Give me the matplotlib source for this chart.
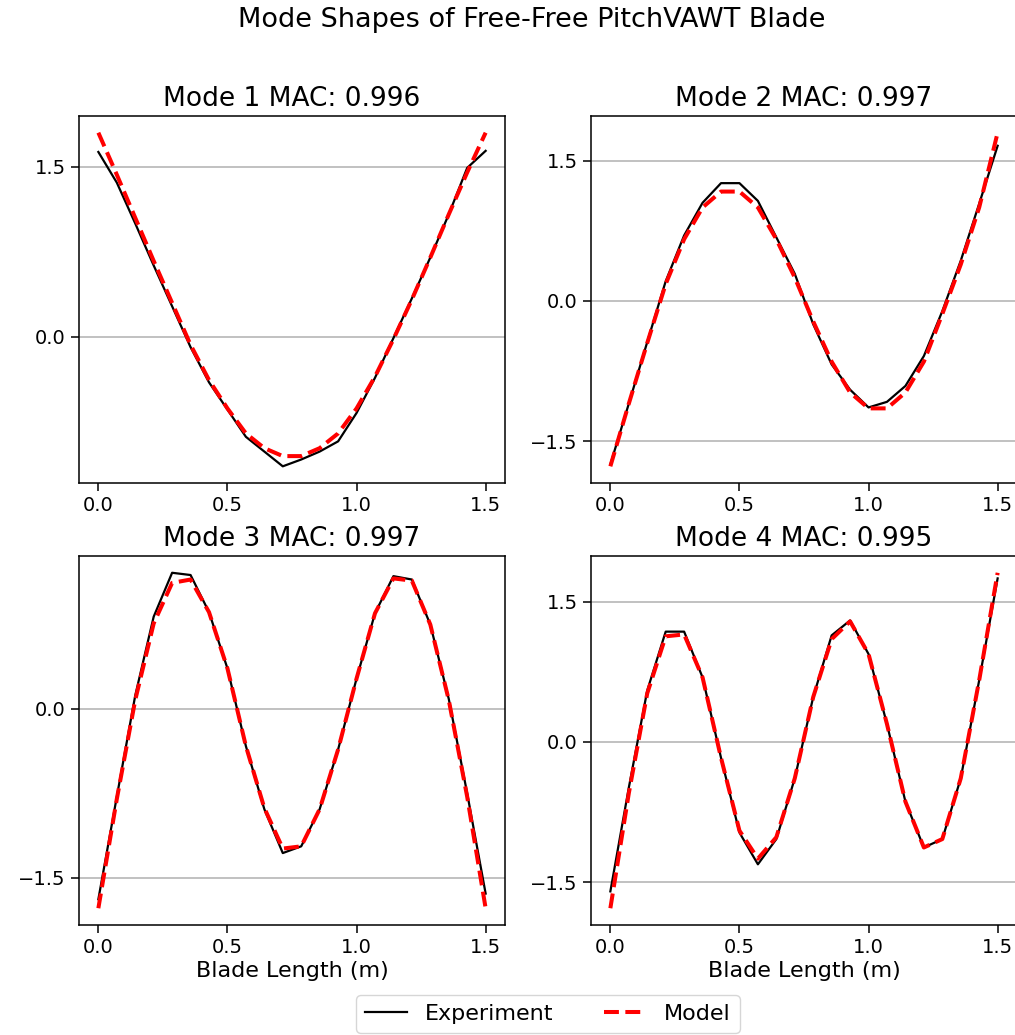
import numpy as np
import matplotlib
matplotlib.use("Agg")
import matplotlib.pyplot as plt
from matplotlib.ticker import MultipleLocator

x = np.linspace(0, 1.5, 22)

titles = ["Mode 1 MAC: 0.996", "Mode 2 MAC: 0.997", "Mode 3 MAC: 0.997", "Mode 4 MAC: 0.995"]

exp1 = [1.63, 1.36, 1.00, 0.63, 0.27, -0.09, -0.40, -0.64, -0.88, -1.01, -1.14,
        -1.08, -1.01, -0.92, -0.67, -0.36, -0.01, 0.34, 0.70, 1.08, 1.49, 1.64]
mod1 = [1.80, 1.43, 1.05, 0.67, 0.30, -0.07, -0.38, -0.63, -0.85, -0.98, -1.05,
        -1.05, -0.98, -0.85, -0.63, -0.35, -0.02, 0.33, 0.70, 1.08, 1.45, 1.80]

exp2 = [-1.75, -1.10, -0.44, 0.21, 0.70, 1.05, 1.26, 1.26, 1.07, 0.68, 0.29,
        -0.25, -0.68, -0.95, -1.14, -1.08, -0.91, -0.59, -0.11, 0.43, 1.04, 1.66]
mod2 = [-1.77, -1.10, -0.45, 0.18, 0.66, 1.00, 1.17, 1.17, 1.00, 0.66, 0.25,
        -0.22, -0.65, -0.98, -1.15, -1.15, -0.98, -0.65, -0.14, 0.39, 1.00, 1.80]

exp3 = [-1.69, -0.78, 0.12, 0.82, 1.21, 1.19, 0.86, 0.36, -0.33, -0.89, -1.28,
        -1.22, -0.89, -0.36, 0.27, 0.85, 1.18, 1.15, 0.75, 0.09, -0.75, -1.64]
mod3 = [-1.77, -0.80, 0.08, 0.76, 1.12, 1.15, 0.86, 0.36, -0.33, -0.88, -1.24,
        -1.22, -0.89, -0.36, 0.27, 0.85, 1.16, 1.14, 0.75, 0.08, -0.78, -1.77]

exp4 = [-1.60, -0.49, 0.55, 1.18, 1.18, 0.69, -0.17, -0.97, -1.31, -1.04, -0.39,
        0.48, 1.14, 1.30, 0.94, 0.19, -0.64, -1.13, -1.04, -0.39, 0.66, 1.75]
mod4 = [-1.78, -0.55, 0.52, 1.13, 1.15, 0.69, -0.17, -0.95, -1.25, -1.02, -0.39,
        0.48, 1.10, 1.29, 0.94, 0.19, -0.64, -1.13, -1.04, -0.39, 0.66, 1.81]

experiments = [exp1, exp2, exp3, exp4]
models = [mod1, mod2, mod3, mod4]

W, H = 1015, 1035
fig = plt.figure(figsize=(W / 100, H / 100), dpi=100)

boxes = [
    (79, 116, 426, 367),
    (591, 116, 426, 367),
    (79, 556, 426, 369),
    (591, 556, 426, 369),
]

handles = None
for k, (l, t, w, h) in enumerate(boxes):
    ax = fig.add_axes([l / W, 1 - (t + h) / H, w / W, h / H])
    he, = ax.plot(x, experiments[k], color="black", lw=1.6, label="Experiment")
    hm, = ax.plot(x, models[k], color="red", lw=2.9, ls="--", label="Model")
    handles = [he, hm]
    ax.yaxis.set_major_locator(MultipleLocator(1.5))
    ax.set_xticks([0.0, 0.5, 1.0, 1.5])
    ax.grid(axis="y", color="#b0b0b0", lw=1.1)
    ax.set_axisbelow(True)
    ax.tick_params(labelsize=14, length=6, width=1.1, colors="black")
    for s in ax.spines.values():
        s.set_linewidth(1.1)
    ax.set_title(titles[k], fontsize=19, pad=7)
    if k >= 2:
        ax.set_xlabel("Blade Length (m)", fontsize=16, labelpad=3)

fig.suptitle("Mode Shapes of Free-Free PitchVAWT Blade", x=532 / W, y=1 - 20 / H,
             va="center", fontsize=19.5)
fig.legend(handles=handles, labels=["Experiment", "Model"], ncol=2,
           loc="center", bbox_to_anchor=(548 / W, 1 - 1014 / H), fontsize=16,
           handlelength=1.88, columnspacing=2.3)

fig.savefig("out.png", dpi=100)
